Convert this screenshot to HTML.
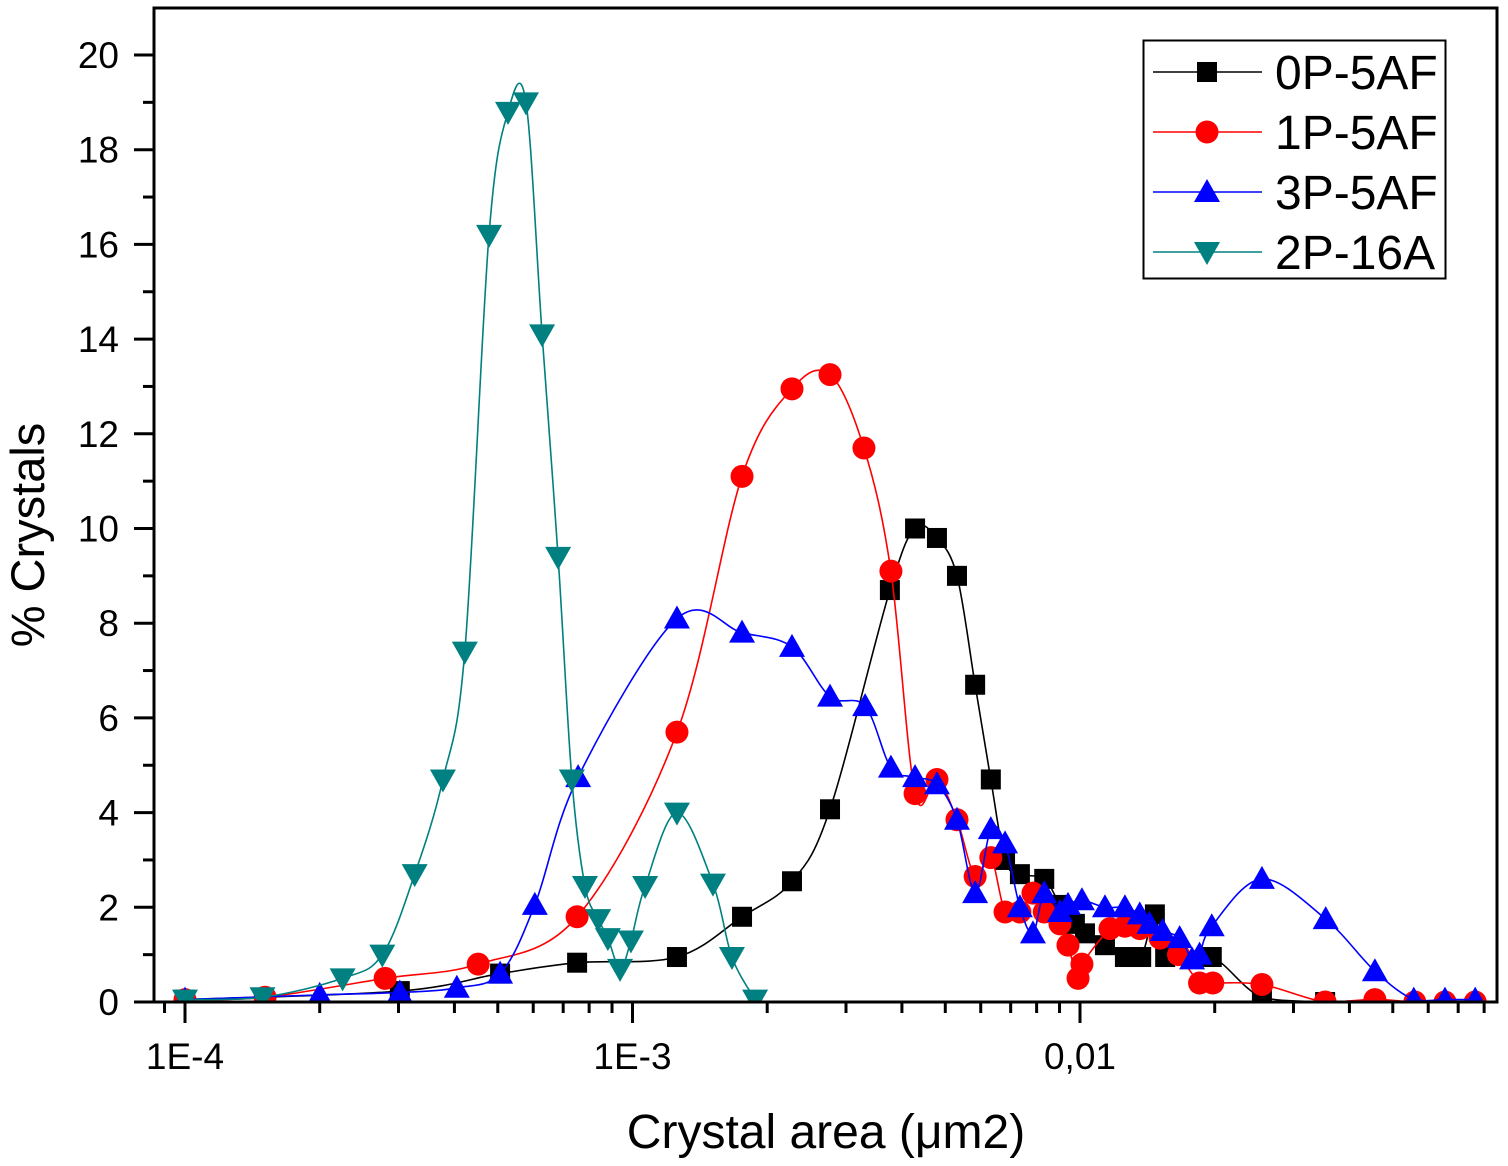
<!DOCTYPE html>
<html><head><meta charset="utf-8"><style>
html,body{margin:0;padding:0;background:#fff;}
svg{display:block;font-family:"Liberation Sans",Arial,sans-serif;}
</style></head><body>
<svg id="chart" width="1508" height="1166" viewBox="0 0 1508 1166" xmlns="http://www.w3.org/2000/svg">
<rect x="0" y="0" width="1508" height="1166" fill="#fff"/>
<g id="plot"></g>
<g id="axes"></g>
<text x="826" y="1148" font-size="48" text-anchor="middle">Crystal area (μm2)</text>
<text transform="translate(44,535) rotate(-90)" font-size="47" text-anchor="middle">% Crystals</text>
<g id="legend"></g>
</svg>
<script>
const xTickValues=[1e-4,1e-3,1e-2];
const xTickLabels=["1E-4","1E-3","0,01"];
const yTickValues=[0,2,4,6,8,10,12,14,16,18,20];
const seriesNames=["0P-5AF","1P-5AF","3P-5AF","2P-16A"];
const seriesColors=["#000000","#ff0000","#0000ff","#008080"];
const seriesMarkers=["square","circle","triangle","triangle-down"];
const xs0=[1e-4,3.02e-4,5.06e-4,7.52e-4,1.257e-3,1.757e-3,2.272e-3,2.763e-3,3.76e-3,4.28e-3,4.79e-3,5.31e-3,5.83e-3,6.32e-3,6.8e-3,7.34e-3,8.32e-3,9.02e-3,9.74e-3,1.026e-2,1.137e-2,1.26e-2,1.37e-2,1.47e-2,1.55e-2,1.97e-2,2.55e-2,3.53e-2];
const ys0=[0.05,0.23,0.6,0.83,0.95,1.8,2.55,4.07,8.7,10.0,9.8,9.0,6.7,4.7,3.0,2.7,2.6,2.05,1.65,1.45,1.2,0.95,0.95,1.85,0.95,0.95,0.1,0.0];
const xs1=[1e-4,1.51e-4,2.8e-4,4.52e-4,7.52e-4,1.257e-3,1.757e-3,2.272e-3,2.763e-3,3.29e-3,3.78e-3,4.28e-3,4.79e-3,5.31e-3,5.83e-3,6.32e-3,6.8e-3,7.34e-3,7.85e-3,8.32e-3,9.02e-3,9.4e-3,9.9e-3,1.01e-2,1.167e-2,1.26e-2,1.36e-2,1.51e-2,1.66e-2,1.85e-2,1.98e-2,2.55e-2,3.53e-2,4.56e-2,5.6e-2,6.54e-2,7.64e-2];
const ys1=[0.05,0.1,0.5,0.8,1.8,5.7,11.1,12.95,13.25,11.7,9.1,4.4,4.7,3.85,2.65,3.05,1.9,1.9,2.3,1.9,1.65,1.2,0.5,0.8,1.55,1.6,1.55,1.35,1.0,0.4,0.4,0.37,0.0,0.05,0.0,0.0,0.0];
const xs2=[1e-4,2.0e-4,3.02e-4,4.05e-4,5.06e-4,6.05e-4,7.56e-4,1.257e-3,1.757e-3,2.272e-3,2.763e-3,3.31e-3,3.78e-3,4.28e-3,4.79e-3,5.31e-3,5.83e-3,6.32e-3,6.8e-3,7.34e-3,7.85e-3,8.32e-3,9.02e-3,9.4e-3,1.01e-2,1.137e-2,1.26e-2,1.36e-2,1.43e-2,1.53e-2,1.67e-2,1.78e-2,1.85e-2,1.97e-2,2.55e-2,3.54e-2,4.56e-2,5.57e-2,6.54e-2,7.64e-2];
const ys2=[0.05,0.15,0.2,0.3,0.6,2.05,4.75,8.1,7.8,7.5,6.45,6.25,4.95,4.75,4.6,3.85,2.3,3.65,3.35,2.0,1.45,2.3,1.9,2.05,2.15,2.0,2.0,1.85,1.65,1.5,1.35,0.9,1.0,1.6,2.6,1.75,0.65,0.05,0.05,0.05];
const xs3=[1e-4,1.49e-4,2.25e-4,2.76e-4,3.26e-4,3.77e-4,4.22e-4,4.78e-4,5.27e-4,5.78e-4,6.28e-4,6.82e-4,7.32e-4,7.83e-4,8.38e-4,8.81e-4,9.38e-4,9.92e-4,1.067e-3,1.257e-3,1.513e-3,1.668e-3,1.879e-3];
const ys3=[0.05,0.1,0.5,1.0,2.7,4.7,7.4,16.2,18.8,19.0,14.1,9.4,4.7,2.45,1.75,1.35,0.7,1.3,2.45,4.0,2.5,0.95,0.05];
const seriesX=[xs0,xs1,xs2,xs3];
const seriesY=[ys0,ys1,ys2,ys3];

const NS="http://www.w3.org/2000/svg";
const L=154,R=1497,T=8,B=1002;
const X0=185,DEC=447.5,Y0=1002,YU=47.35;
function xPx(v){return X0+(Math.log10(v)+4)*DEC;}
function yPx(v){return Y0-v*YU;}
function mk(tag,attrs,parent){const e=document.createElementNS(NS,tag);for(const k in attrs)e.setAttribute(k,attrs[k]);parent.appendChild(e);return e;}
const plot=document.getElementById('plot'),axes=document.getElementById('axes'),legend=document.getElementById('legend');

function splinePath(pts){
  let d="M"+pts[0][0].toFixed(1)+","+pts[0][1].toFixed(1);
  for(let i=0;i<pts.length-1;i++){
    const p0=pts[Math.max(0,i-1)],p1=pts[i],p2=pts[i+1],p3=pts[Math.min(pts.length-1,i+2)];
    const t=1/6;
    const c1=[p1[0]+(p2[0]-p0[0])*t,p1[1]+(p2[1]-p0[1])*t];
    const c2=[p2[0]-(p3[0]-p1[0])*t,p2[1]-(p3[1]-p1[1])*t];
    d+=" C"+c1[0].toFixed(1)+","+Math.min(B,c1[1]).toFixed(1)+" "+c2[0].toFixed(1)+","+Math.min(B,c2[1]).toFixed(1)+" "+p2[0].toFixed(1)+","+p2[1].toFixed(1);
  }
  return d;
}
function marker(type,x,y,color,parent){
  let e;
  if(type==="square") e=mk('rect',{x:x-10,y:y-10,width:20,height:20,fill:color},parent);
  else if(type==="circle") e=mk('circle',{cx:x,cy:y,r:11.5,fill:color},parent);
  else if(type==="triangle") e=mk('polygon',{points:`${x-13},${y+10} ${x+13},${y+10} ${x},${y-13}`,fill:color},parent);
  else e=mk('polygon',{points:`${x-13},${y-10} ${x+13},${y-10} ${x},${y+13}`,fill:color},parent);
  return e;
}
const clip=mk('clipPath',{id:'clipP'},mk('defs',{},plot));
mk('rect',{x:L,y:T,width:R-L,height:B-T},clip);
for(let s=0;s<4;s++){
  const g=mk('g',{'clip-path':'url(#clipP)'},plot);
  
  
  const pts=seriesX[s].map((v,i)=>[xPx(v),yPx(seriesY[s][i])]);
  const p=mk('path',{d:splinePath(pts),fill:'none',stroke:seriesColors[s],'stroke-width':1.6},g);
  
  
  pts.forEach(pt=>{const m=marker(seriesMarkers[s],pt[0],pt[1],seriesColors[s],g);
    
    });
}
const fr=mk('rect',{x:L,y:T,width:R-L,height:B-T,fill:'none',stroke:'#000','stroke-width':3},axes);


yTickValues.forEach(v=>{
  const y=yPx(v);
  mk('line',{x1:L-20,x2:L,y1:y,y2:y,stroke:'#000','stroke-width':3},axes);
  const t=mk('text',{x:119,y:y+13,'font-size':37,'text-anchor':'end'},axes);
  t.textContent=v;
  
  
  if(v<20){const ym=yPx(v+1);mk('line',{x1:L-11,x2:L,y1:ym,y2:ym,stroke:'#000','stroke-width':3},axes);}
});
for(let d=-5;d<=-1;d++){
  for(let m=1;m<=9;m++){
    const v=m*Math.pow(10,d),x=xPx(v);
    if(x<L||x>R)continue;
    mk('line',{x1:x,x2:x,y1:B,y2:B+(m===1?21:11),stroke:'#000','stroke-width':3},axes);
  }
}
xTickValues.forEach((v,i)=>{
  const t=mk('text',{x:xPx(v),y:1069,'font-size':37,'text-anchor':'middle'},axes);
  t.textContent=xTickLabels[i];
  
  
});
const lb=mk('rect',{x:1143.5,y:40.5,width:302,height:238,fill:'#fff',stroke:'#000','stroke-width':2},legend);


for(let s=0;s<4;s++){
  const y=72+s*60;
  const g=mk('g',{},legend);
  
  
  mk('line',{x1:1153,x2:1262,y1:y,y2:y,stroke:seriesColors[s],'stroke-width':1.6},g);
  marker(seriesMarkers[s],1207,y,seriesColors[s],g);
  const t=mk('text',{x:1275,y:y+17,'font-size':48},g);
  t.textContent=seriesNames[s];
}
</script>
</body></html>
